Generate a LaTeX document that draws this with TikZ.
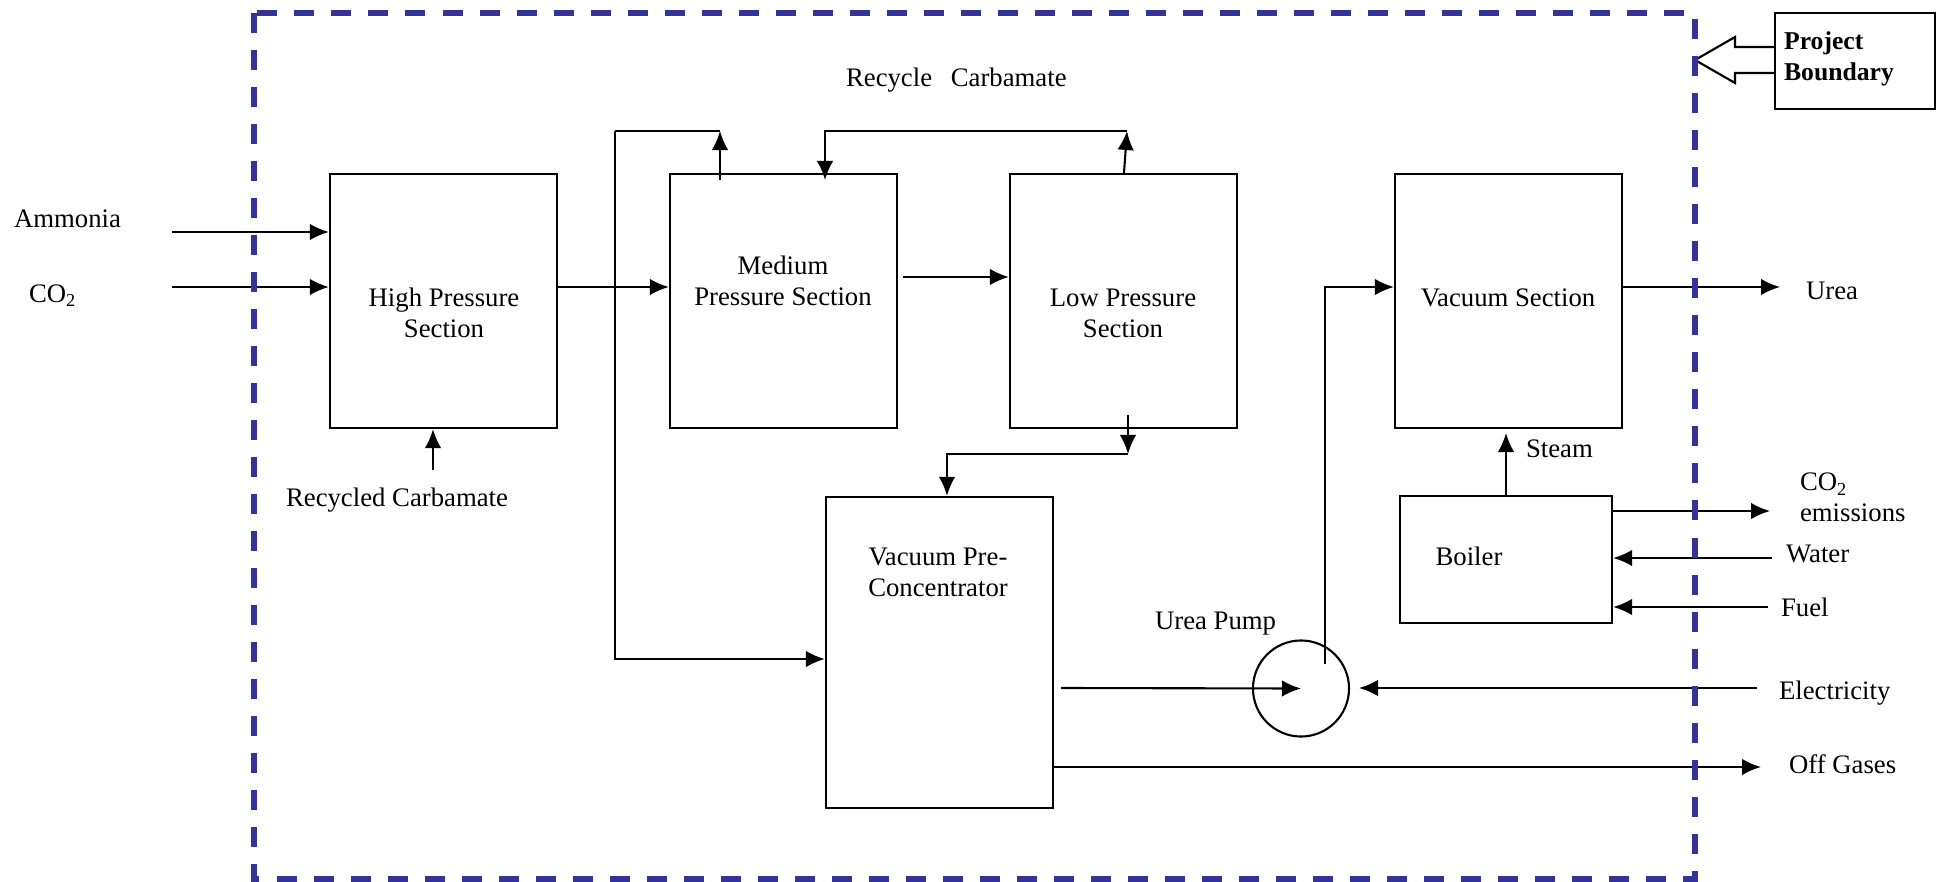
\documentclass[tikz,border=0pt]{standalone}
\usepackage{fontspec}
\setmainfont{Liberation Serif}
\usetikzlibrary{arrows.meta}
\definecolor{pbblue}{RGB}{51,51,153}
\begin{document}
\begin{tikzpicture}[x=0.01cm,y=-0.01cm,line width=0.6pt,
	>={Latex[length=1.9mm,width=1.65mm]},
	font=\fontsize{7.6}{8.8}\selectfont,
	unit/.style={draw,minimum width=2.27cm,minimum height=2.54cm,inner sep=0pt},
	txt/.style={inner sep=0pt,align=center},
	tag/.style={inner sep=0pt,anchor=base west},
	boundary/.style={draw=pbblue,line width=1.5pt,dash pattern=on 0.2cm off 0.17cm}]
	\useasboundingbox (0,0) rectangle (1939,882);
	% process units
	\node[unit] (hp) at (443.5,301) {};
	\node[unit] (mp) at (783.5,301) {};
	\node[unit] (lp) at (1123.5,301) {};
	\node[unit] (vs) at (1508.5,301) {};
	\node[unit,minimum height=3.11cm] (vpc) at (939.5,652.5) {};
	\node[unit,minimum width=2.12cm,minimum height=1.27cm] (boiler) at (1506,559.5) {};
	\node[draw,circle,minimum size=0.96cm,inner sep=0pt] (pump) at (1301,688.5) {};
	\node[txt] (hp-t) at (444,313) {High Pressure\\Section};
	\node[txt] (mp-t) at (783,281) {Medium\\Pressure Section};
	\node[txt] (lp-t) at (1123,313) {Low Pressure\\Section};
	\node[txt] (vs-t) at (1508,298) {Vacuum Section};
	\node[txt] (vpc-t) at (938,572) {Vacuum Pre-\\Concentrator};
	\node[txt] (boiler-t) at (1469,556) {Boiler};
	% stream labels
	\node[tag] (nh3-t) at (13,228) {Ammonia};
	\node[tag] (co2-t) at (28,302) {CO\raisebox{-0.35ex}{\fontsize{5.2}{6}\selectfont 2}};
	\node[tag] (rcb-t) at (285,506) {Recycled Carbamate};
	\node[tag] (rct-t) at (845,87) {Recycle\hspace{0.7em}Carbamate};
	\node[tag] (pump-t) at (1154,629) {Urea Pump};
	\node[tag] (steam-t) at (1525,457) {Steam};
	\node[tag] (urea-t) at (1805,299) {Urea};
	\node[inner sep=0pt,anchor=north west,align=left] (emis-t) at (1799,472) {CO\raisebox{-0.35ex}{\fontsize{5.2}{6}\selectfont 2}\\emissions};
	\node[tag] (water-t) at (1785,562) {Water};
	\node[tag] (fuel-t) at (1780,616) {Fuel};
	\node[tag] (elec-t) at (1778,699) {Electricity};
	\node[tag] (off-t) at (1788,773) {Off Gases};
	\node[draw,inner sep=0pt,minimum width=1.6cm,minimum height=0.96cm] (pb) at (1855,61) {};
	\node[inner sep=0pt,anchor=north west,align=left,font=\fontsize{7.3}{8.6}\selectfont\bfseries] (pb-t) at (1783,31) {Project\\Boundary};
	% free ends
	\coordinate (nh3in) at (172,232);
	\coordinate (co2in) at (172,287);
	\coordinate (rcin) at (433,470);
	\coordinate (r1) at (615,131);
	\coordinate (mpout) at (720,131);
	\coordinate (mpin) at (825,131);
	\coordinate (lpout) at (1127,131);
	\coordinate (lpjn) at (1128,454);
	\coordinate (vcjn) at (947,454);
	\coordinate (pumpup) at (1325,664);
	\coordinate (urea) at (1780,287);
	\coordinate (elec) at (1757,688);
	\coordinate (emis) at (1770,511);
	\coordinate (water) at (1772,558);
	\coordinate (fuel) at (1768,607);
	\coordinate (off) at (1761,767);
	% streams
	\draw[->] (nh3in) -- (nh3in -| hp.west);
	\draw[->] (co2in) -- (co2in -| hp.west);
	\draw[->] (rcin) -- (rcin |- hp.south);
	\draw[->] (hp.east |- co2in) -- (mp.west |- co2in);
	\draw[->] (r1) |- (vpc.west |- 615,659);
	\draw (r1) -- (mpout);
	\draw[->] (720,180) -- (mpout);
	\draw[->] (lp.north -| 1124,0) -- (lpout);
	\draw[->] (lpout) -- (mpin) -- (825,180);
	\draw[->] (903,277) -- (lp.west |- 903,277);
	\draw[->] (1128,415) -- (lpjn);
	\draw[->] (lpjn) -- (vcjn) -- (vcjn |- vpc.north);
	\draw[->] (1061,688) -- (pump.center);
	\draw[->] (elec) -- (1359,688);
	\draw[->] (pumpup) -- (pumpup |- urea) -- (vs.west |- urea);
	\draw[->] (vs.east |- urea) -- (urea);
	\draw[->] (boiler.north) -- (1506,433);
	\draw[->] (boiler.east |- emis) -- (emis);
	\draw[->] (water) -- (boiler.east |- water);
	\draw[->] (fuel) -- (boiler.east |- fuel);
	\draw[->] (vpc.east |- off) -- (off);
	% project boundary
	\draw (pb.west |- 0,47) -- (1735,47) -- (1735,37) -- (1695,60) -- (1735,83) -- (1735,73) -- (pb.west |- 0,73);
	\draw[boundary] (254,13) rectangle (1695,879);
\end{tikzpicture}
\end{document}
